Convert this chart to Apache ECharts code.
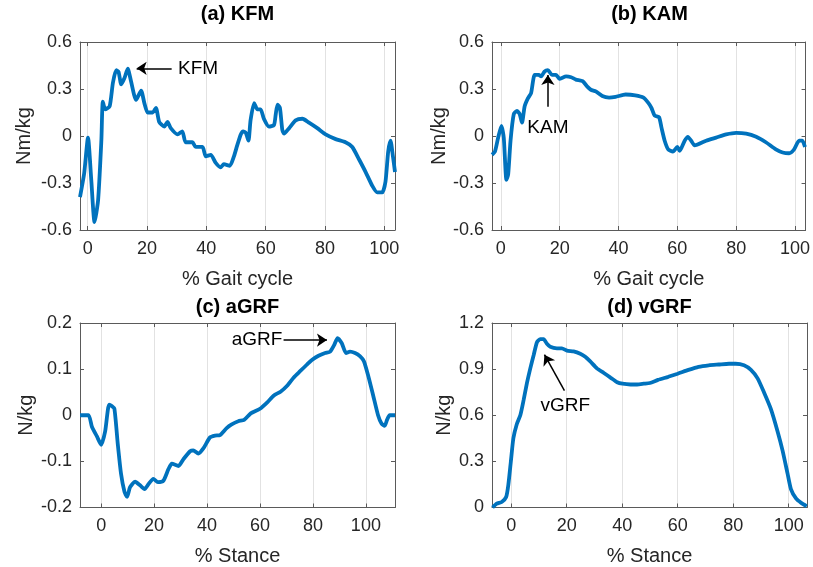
<!DOCTYPE html>
<html>
<head>
<meta charset="utf-8">
<script src="https://cdn.jsdelivr.net/npm/echarts@6/dist/echarts.min.js"></script>
<style>
  html, body { margin: 0; padding: 0; background: #fff; }
  #chart { width: 813px; height: 567px; }
</style>
</head>
<body>
<div id="chart"></div>
<script>
// [x, value]
var kfm = [[-2.6,-0.39],[-1.2,-0.24],[0.1,-0.01],[1.2,-0.28],[2.3,-0.55],[3.5,-0.41],[4.6,-0.03],[5.1,0.22],
  [5.9,0.17],[7.4,0.19],[8.5,0.34],[9.6,0.42],[10.4,0.41],[11.3,0.33],[12.4,0.37],[13.5,0.43],[14.6,0.35],
  [16.3,0.23],[18,0.29],[19.1,0.21],[20.2,0.15],[21.9,0.15],[23,0.18],[24.1,0.09],[25.8,0.06],[26.9,0.09],
  [28,0.05],[30.3,0.01],[31.9,0.03],[33,-0.04],[35.3,-0.04],[36.4,-0.07],[38.7,-0.07],[39.8,-0.13],
  [41.5,-0.12],[43.1,-0.17],[44.8,-0.2],[45.9,-0.18],[47.9,-0.19],[49.3,-0.13],[50.4,-0.06],[51.6,0.01],
  [52.4,0.03],[53.3,0.02],[54.2,-0.03],[54.9,0.1],[56.1,0.21],[57.2,0.17],[58.3,0.17],[59.4,0.11],
  [61.1,0.06],[62.8,0.07],[63.4,0.14],[64,0.2],[64.8,0.18],[65.6,0.04],[66.2,0.015],[67.9,0.05],
  [70.1,0.1],[72.4,0.11],[74.6,0.085],[77.4,0.05],[80.2,0.01],[83.6,-0.02],[86.9,-0.04],[89.2,-0.07],
  [91.5,-0.15],[93.7,-0.23],[96,-0.32],[97.6,-0.36],[99.3,-0.36],[100.4,-0.29],[101.3,-0.1],[102.1,-0.03],
  [102.9,-0.13],[103.6,-0.23]];

var kam = [[-3,-0.12],[-2,-0.1],[-0.9,-0.01],[0.2,0.065],[1,-0.01],[1.9,-0.28],[2.5,-0.245],[3.3,-0.03],
  [4.4,0.14],[5.5,0.16],[6.4,0.14],[7.2,0.085],[8.1,0.19],[9.2,0.24],[10.3,0.275],[11.5,0.39],[12.9,0.39],
  [13.7,0.38],[14.8,0.41],[16,0.42],[17.4,0.39],[18.8,0.39],[19.9,0.365],[22.2,0.38],[23.9,0.375],
  [25.5,0.36],[27.8,0.35],[29.4,0.315],[30.6,0.295],[32.3,0.285],[34.5,0.255],[36.8,0.245],[39,0.25],
  [42.4,0.265],[45.7,0.26],[48.5,0.245],[50.2,0.21],[51.2,0.18],[52.3,0.13],[53.8,0.12],[54.6,0.055],
  [55.7,-0.03],[56.9,-0.085],[58.5,-0.1],[60,-0.07],[60.8,-0.095],[62.5,-0.03],[63.6,-0.005],[64.7,-0.03],
  [65.9,-0.06],[69.8,-0.03],[73.2,-0.01],[76.6,0.01],[80,0.02],[83.4,0.015],[86.8,-0.005],[90.1,-0.04],
  [93.5,-0.085],[95.8,-0.105],[98,-0.11],[99.7,-0.085],[101.4,-0.03],[102.5,-0.03],[103.4,-0.07]];

var agrf = [[-8,0],[-4.8,0],[-3.5,-0.025],[-1.6,-0.046],[0,-0.064],[1.5,-0.035],[3,0.023],[4,0.02],
  [5,0.014],[6.3,-0.064],[7.5,-0.127],[8.8,-0.166],[9.8,-0.177],[10.9,-0.156],[12.8,-0.144],[14.7,-0.152],
  [16.4,-0.16],[17.9,-0.149],[19.7,-0.138],[21.4,-0.145],[23.5,-0.142],[25.4,-0.117],[26.7,-0.105],
  [29.2,-0.11],[31.1,-0.095],[33.6,-0.078],[34.8,-0.076],[36.7,-0.083],[38.6,-0.072],[41.1,-0.048],
  [43,-0.044],[44.9,-0.043],[47.4,-0.028],[49.3,-0.02],[51.8,-0.013],[54,-0.01],[56.5,0.004],[60,0.014],
  [62.75,0.028],[65.25,0.043],[67.75,0.051],[70.25,0.064],[72.75,0.082],[75.25,0.096],[77.75,0.11],
  [79.6,0.12],[82.1,0.129],[84.6,0.135],[86.5,0.138],[88,0.152],[89.3,0.167],[90.9,0.156],[92.5,0.135],
  [94,0.138],[95.9,0.135],[97.75,0.128],[99.25,0.117],[100.9,0.085],[102.75,0.043],[104.6,0],
  [105.9,-0.018],[107.1,-0.023],[108,-0.01],[109,0],[111,0]];

var vgrf = [[-6.7,0],[-5.2,0.025],[-3.4,0.036],[-1.8,0.068],[-1,0.15],[-0.1,0.3],[0.8,0.45],[2,0.54],
  [3.3,0.6],[4.5,0.7],[5.7,0.81],[6.9,0.905],[8.1,0.99],[9.3,1.075],[10.5,1.095],[11.7,1.095],[12.9,1.065],
  [14.1,1.045],[16.5,1.035],[18.3,1.035],[20.1,1.02],[22.5,1.015],[24.9,1.0],[26.7,0.98],[28.5,0.95],
  [30.9,0.905],[33.4,0.875],[35.8,0.845],[38.2,0.815],[40.1,0.805],[43,0.8],[45.4,0.8],[47.8,0.805],
  [50,0.81],[52.9,0.83],[56.6,0.85],[60,0.87],[63.9,0.895],[67.5,0.915],[71.2,0.925],[74.8,0.93],
  [78.5,0.935],[80.9,0.935],[83.9,0.925],[86.4,0.895],[88.8,0.84],[91.2,0.745],[93.6,0.64],[96,0.495],
  [97.8,0.37],[99.6,0.22],[100.8,0.12],[102.7,0.057],[104.5,0.03],[106.5,0.008]];

var titles = ['(a) KFM', '(b) KAM', '(c) aGRF', '(d) vGRF'];
var xNames = ['% Gait cycle', '% Gait cycle', '% Stance', '% Stance'];
var yNames = ['Nm/kg', 'Nm/kg', 'N/kg', 'N/kg'];
var xRanges = [[-2.6, 103.6], [-3, 103.6], [-8, 111], [-6.9, 106.6]];
var yRanges = [[-0.6, 0.6, 0.3], [-0.6, 0.6, 0.3], [-0.2, 0.2, 0.1], [0, 1.2, 0.3]];

// arrows: [from, to] and text label: [x, y, text, position]
var arrows = [
  [[28.3, 0.432], [16.5, 0.432]],
  [[16, 0.187], [16, 0.389]],
  [[68.9, 0.163], [85.3, 0.163]],
  [[19.2, 0.76], [12, 0.994]]
];
var notes = [
  [29.6, 0.432, 'KFM', 'right'],
  [16, 0.051, 'KAM', 'inside'],
  [69.4, 0.163, 'aGRF', 'left'],
  [19.5, 0.664, 'vGRF', 'inside']
];
var curves = [kfm, kam, agrf, vgrf];

var font = 'Liberation Sans, Arial, sans-serif';
var frame = '#5a5a5a';
var textCol = '#262626';

var grids = [
  {left: 80, top: 42, width: 315, height: 188},
  {left: 492, top: 42, width: 315, height: 188},
  {left: 80, top: 323, width: 315, height: 188},
  {left: 492, top: 323, width: 315, height: 188}
];
var yGaps = [46, 43, 44, 38];
var xGaps = [39, 39, 38.5, 38.5];
var titleTops = [4, 4, 297, 297];

var xAxes = [], yAxes = [], series = [], titleList = [];
grids.forEach(function (g, i) {
  titleList.push({
    text: titles[i], left: g.left + g.width / 2, top: titleTops[i], textAlign: 'center', padding: 0,
    textStyle: {fontFamily: font, fontSize: 20, fontWeight: 'bold', color: '#000'}
  });
  var tick = {show: true, inside: true, length: 4, lineStyle: {color: frame}};
  xAxes.push({
    type: 'value', gridIndex: i, min: xRanges[i][0], max: xRanges[i][1],
    minInterval: 20, maxInterval: 20,
    name: xNames[i], nameLocation: 'middle', nameGap: xGaps[i],
    nameTextStyle: {fontFamily: font, fontSize: 20, color: textCol},
    axisLine: {show: true, onZero: false, lineStyle: {color: frame}},
    axisTick: tick,
    axisLabel: {fontFamily: font, fontSize: 18, color: textCol, margin: 10, showMinLabel: false, showMaxLabel: false},
    splitLine: {show: true, lineStyle: {color: '#e2e2e2', width: 1}}
  });
  xAxes.push({
    type: 'value', gridIndex: i, position: 'top', min: xRanges[i][0], max: xRanges[i][1],
    minInterval: 20, maxInterval: 20,
    axisLine: {show: true, onZero: false, lineStyle: {color: frame}},
    axisTick: tick, axisLabel: {show: false}, splitLine: {show: false}
  });
  yAxes.push({
    type: 'value', gridIndex: i, min: yRanges[i][0], max: yRanges[i][1], interval: yRanges[i][2],
    name: yNames[i], nameLocation: 'middle', nameGap: yGaps[i],
    nameTextStyle: {fontFamily: font, fontSize: 20, color: textCol},
    axisLine: {show: true, onZero: false, lineStyle: {color: frame}},
    axisTick: tick,
    axisLabel: {fontFamily: font, fontSize: 18, color: textCol, margin: 8},
    splitLine: {show: false}
  });
  yAxes.push({
    type: 'value', gridIndex: i, position: 'right', min: yRanges[i][0], max: yRanges[i][1], interval: yRanges[i][2],
    axisLine: {show: true, onZero: false, lineStyle: {color: frame}},
    axisTick: tick, axisLabel: {show: false}, splitLine: {show: false}
  });
  var n = notes[i];
  series.push({
    type: 'line', xAxisIndex: 2 * i, yAxisIndex: 2 * i,
    data: curves[i], showSymbol: false, smooth: 0.2,
    lineStyle: {color: '#0072BD', width: 3.8}, itemStyle: {color: '#0072BD'},
    markLine: {
      silent: true, animation: false, symbol: ['none', 'arrow'], symbolSize: 10,
      lineStyle: {color: '#000', width: 1.5, type: 'solid'}, label: {show: false},
      data: [[{coord: arrows[i][0]}, {coord: arrows[i][1]}]]
    },
    markPoint: {
      silent: true, animation: false, symbol: 'circle', symbolSize: 1,
      itemStyle: {color: 'transparent'},
      label: {show: true, position: n[3], distance: 2, formatter: n[2], fontFamily: font, fontSize: 19, color: '#000'},
      data: [{coord: [n[0], n[1]]}]
    }
  });
});

var myChart = echarts.init(document.getElementById('chart'));
myChart.setOption({
  animation: false,
  backgroundColor: '#fff',
  title: titleList,
  grid: grids,
  xAxis: xAxes,
  yAxis: yAxes,
  series: series
});
</script>
</body>
</html>
